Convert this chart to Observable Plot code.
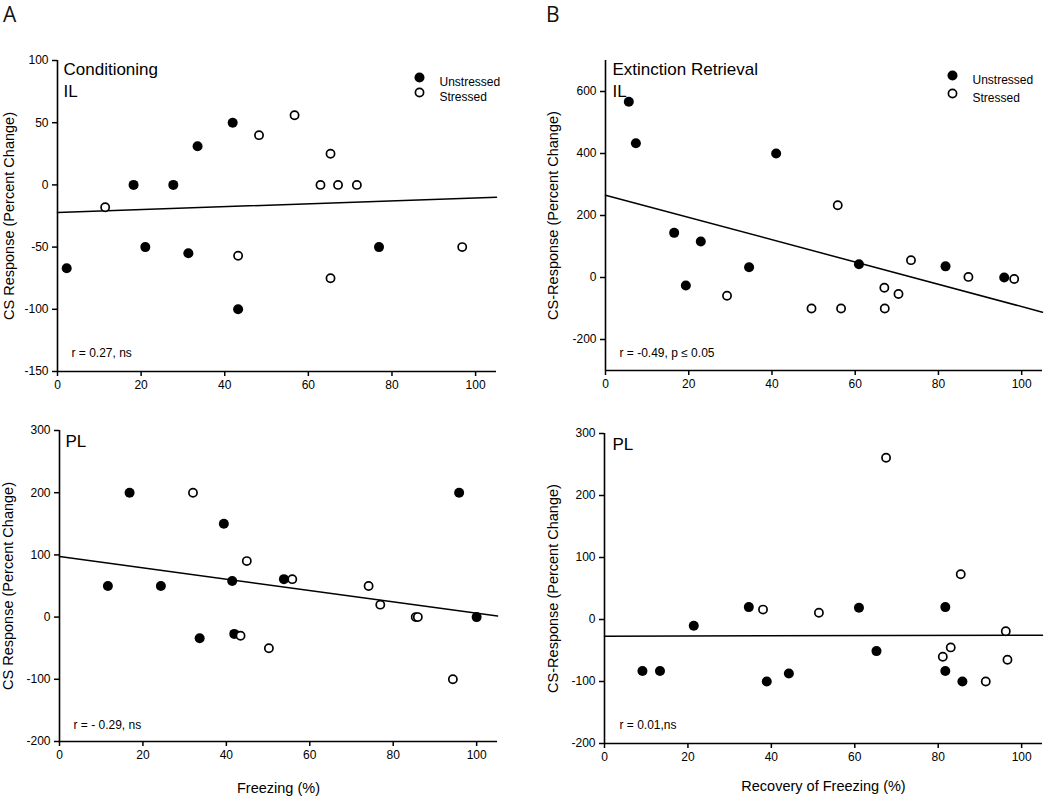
<!DOCTYPE html>
<html>
<head>
<meta charset="utf-8">
<script src="https://cdn.jsdelivr.net/npm/d3@7"></script>
<script src="https://cdn.jsdelivr.net/npm/@observablehq/plot@0.6"></script>
<style>
  html, body { margin: 0; padding: 0; background: #fff; }
  body { width: 1050px; height: 799px; position: relative; overflow: hidden; font-family: "Liberation Sans", Arial, sans-serif; color: #000; }
  .panel { position: absolute; }
  .tag { position: absolute; font-family: "Open Sans", "Liberation Sans", sans-serif; font-size: 21px; line-height: 1; color: #111; }
</style>
</head>
<body>
<div class="tag" style="left:3px;top:4px">A</div>
<div class="tag" style="left:546px;top:4px">B</div>
<div id="tl" class="panel" style="left:0;top:0;width:530px;height:420px"></div>
<div id="tr" class="panel" style="left:520px;top:0;width:530px;height:420px"></div>
<div id="bl" class="panel" style="left:0;top:400px;width:530px;height:399px"></div>
<div id="br" class="panel" style="left:520px;top:400px;width:530px;height:399px"></div>
<script>
// ---------- Data ----------
const xTicks = [0, 20, 40, 60, 80, 100];
const fitX = [0, 105];

// A, top: Conditioning, IL
const condIL_unstressedX = [2.2, 18.2, 21.0, 27.7, 31.3, 33.5, 41.9, 43.2, 76.9];
const condIL_unstressedY = [-67, 0, -50, 0, -55, 31, 50, -100, -50];
const condIL_stressedX = [11.4, 43.2, 48.2, 56.7, 62.9, 65.3, 65.3, 67.1, 71.6, 96.8];
const condIL_stressedY = [-18, -57, 40, 56, 0, 25, -75, 0, 0, -50];
const condIL_fitY = [-22.2, -9.9];
const condIL_yTicks = [-150, -100, -50, 0, 50, 100];

// B, top: Extinction Retrieval, IL
const extIL_unstressedX = [5.6, 7.3, 16.5, 19.3, 22.9, 34.5, 41.0, 60.9, 81.7, 95.8];
const extIL_unstressedY = [567, 433, 144, -26, 116, 33, 400, 43, 36, 0];
const extIL_stressedX = [29.2, 49.5, 55.8, 56.6, 67.0, 67.1, 70.4, 73.4, 87.2, 98.2];
const extIL_stressedY = [-59, -100, 233, -100, -33, -100, -53, 56, 2, -5];
const extIL_fitY = [265.6, -111.8];
const extIL_yTicks = [-200, 0, 200, 400, 600];

// A, bottom: Conditioning, PL
const condPL_unstressedX = [11.6, 16.8, 24.3, 33.6, 39.4, 41.4, 41.9, 53.8, 95.8, 100];
const condPL_unstressedY = [50, 200, 50, -34, 150, 58, -27, 61, 200, 0];
const condPL_stressedX = [32.0, 43.4, 44.9, 50.2, 55.8, 74.1, 76.9, 85.4, 85.9, 94.3];
const condPL_stressedY = [200, -30, 90, -50, 61, 50, 20, 0, 0, -100];
const condPL_fitY = [97.5, 1.6];
const condPL_yTicks = [-200, -100, 0, 100, 200, 300];

// B, bottom: Extinction Retrieval, PL
const extPL_unstressedX = [9.1, 13.3, 21.4, 34.6, 38.9, 44.2, 61.0, 65.2, 81.7, 81.7, 85.8];
const extPL_unstressedY = [-83, -83, -10, 20, -100, -87, 19, -51, 20, -83, -100];
const extPL_stressedX = [38.0, 51.4, 67.5, 81.1, 83.0, 85.4, 91.4, 96.2, 96.6];
const extPL_stressedY = [16, 11, 261, -60, -45, 73, -100, -19, -65];
const extPL_fitY = [-26.9, -25.3];
const extPL_yTicks = [-200, -100, 0, 100, 200, 300];

const legendLabels = ["Unstressed", "Stressed"];

// ---------- Helpers ----------
const pts = (xs, ys) => xs.map((x, i) => ({x, y: ys[i]}));
const fmt = d => String(d); // plain hyphen-minus like the reference

function panel(o) {
  const unstressed = pts(o.ux, o.uy);
  const stressed = pts(o.sx, o.sy);
  const fit = pts(fitX, o.fitY);
  const marks = [
    Plot.ruleX([0], {strokeWidth: 1.6}),
    Plot.ruleY([o.yDomain[0]], {strokeWidth: 1.6}),
    Plot.axisY({ticks: o.yTicks, tickFormat: fmt, tickSize: 5, tickPadding: 4, strokeWidth: 1.5, label: null, fontSize: 12}),
    Plot.axisX({ticks: xTicks, tickFormat: fmt, tickSize: 5, tickPadding: 4, strokeWidth: 1.5, label: null, fontSize: 12}),
    Plot.line(fit, {x: "x", y: "y", strokeWidth: 1.5}),
    Plot.dot(unstressed, {x: "x", y: "y", r: 5, fill: "black", stroke: "none"}),
    Plot.dot(stressed, {x: "x", y: "y", r: 4.1, fill: "white", stroke: "black", strokeWidth: 1.7}),
    Plot.text([o.title], {frameAnchor: "top-left", dx: o.titleDx, dy: o.titleDy, lineAnchor: "top", textAnchor: "start", fontSize: 17, lineHeight: 1.24}),
    Plot.text([o.stat], {frameAnchor: "bottom-left", dx: o.statDx, dy: o.statDy, lineAnchor: "middle", textAnchor: "start", fontSize: 12}),
    Plot.text([o.yLabel], {frameAnchor: "left", dx: o.yLabelDx, rotate: -90, lineAnchor: "top", textAnchor: "middle", fontSize: 14.5})
  ];
  if (o.xLabel) {
    marks.push(Plot.text([o.xLabel], {frameAnchor: "bottom", dy: o.xLabelDy, lineAnchor: "bottom", textAnchor: "middle", fontSize: 14.5}));
  }
  if (o.legend) {
    const L = o.legend;
    marks.push(
      Plot.dot([legendLabels[0]], {frameAnchor: "top-left", dx: L.dotDx, dy: L.dy1, r: 5, fill: "black", stroke: "none"}),
      Plot.dot([legendLabels[1]], {frameAnchor: "top-left", dx: L.dotDx, dy: L.dy2, r: 4.1, fill: "white", stroke: "black", strokeWidth: 1.7}),
      Plot.text([legendLabels[0]], {frameAnchor: "top-left", dx: L.textDx, dy: L.dy1, textAnchor: "start", fontSize: 12}),
      Plot.text([legendLabels[1]], {frameAnchor: "top-left", dx: L.textDx, dy: L.dy2, textAnchor: "start", fontSize: 12})
    );
  }
  return Plot.plot({
    width: o.width, height: o.height,
    marginLeft: o.m[0], marginRight: o.m[1], marginTop: o.m[2], marginBottom: o.m[3],
    style: {background: "transparent", fontFamily: "'Liberation Sans', Arial, sans-serif", fontSize: "12px", color: "black", overflow: "visible"},
    x: {domain: [0, 105]},
    y: {domain: o.yDomain},
    marks
  });
}

document.getElementById("tl").append(panel({
  ux: condIL_unstressedX, uy: condIL_unstressedY, sx: condIL_stressedX, sy: condIL_stressedY, fitY: condIL_fitY,
  yDomain: [-150, 100], yTicks: condIL_yTicks,
  width: 530, height: 420, m: [57, 34, 60, 49],
  title: "Conditioning\nIL", titleDx: 6, titleDy: 0,
  stat: "r = 0.27, ns", statDx: 14, statDy: -18,
  yLabel: "CS Response (Percent Change)", yLabelDx: -54,
  legend: {dotDx: 362, textDx: 382, dy1: 17, dy2: 32}
}));

document.getElementById("tr").append(panel({
  ux: extIL_unstressedX, uy: extIL_unstressedY, sx: extIL_stressedX, sy: extIL_stressedY, fitY: extIL_fitY,
  yDomain: [-300, 700], yTicks: extIL_yTicks,
  width: 530, height: 420, m: [85, 8, 60, 50],
  title: "Extinction Retrieval\nIL", titleDx: 7, titleDy: 0,
  stat: "r = -0.49, p \u2264 0.05", statDx: 14, statDy: -17,
  yLabel: "CS-Response (Percent Change)", yLabelDx: -58,
  legend: {dotDx: 347, textDx: 367, dy1: 15, dy2: 33}
}));

document.getElementById("bl").append(panel({
  ux: condPL_unstressedX, uy: condPL_unstressedY, sx: condPL_stressedX, sy: condPL_stressedY, fitY: condPL_fitY,
  yDomain: [-200, 300], yTicks: condPL_yTicks,
  width: 530, height: 399, m: [59, 33, 30, 58],
  title: "PL", titleDx: 6, titleDy: 2,
  stat: "r = - 0.29, ns", statDx: 14, statDy: -16,
  yLabel: "CS Response (Percent Change)", yLabelDx: -57,
  xLabel: "Freezing (%)", xLabelDy: 51
}));

document.getElementById("br").append(panel({
  ux: extPL_unstressedX, uy: extPL_unstressedY, sx: extPL_stressedX, sy: extPL_stressedY, fitY: extPL_fitY,
  yDomain: [-200, 300], yTicks: extPL_yTicks,
  width: 530, height: 399, m: [84, 8, 33, 56],
  title: "PL", titleDx: 8, titleDy: 2,
  stat: "r = 0.01,ns", statDx: 15, statDy: -18,
  yLabel: "CS-Response (Percent Change)", yLabelDx: -57,
  xLabel: "Recovery of Freezing (%)", xLabelDy: 47
}));
</script>
</body>
</html>
